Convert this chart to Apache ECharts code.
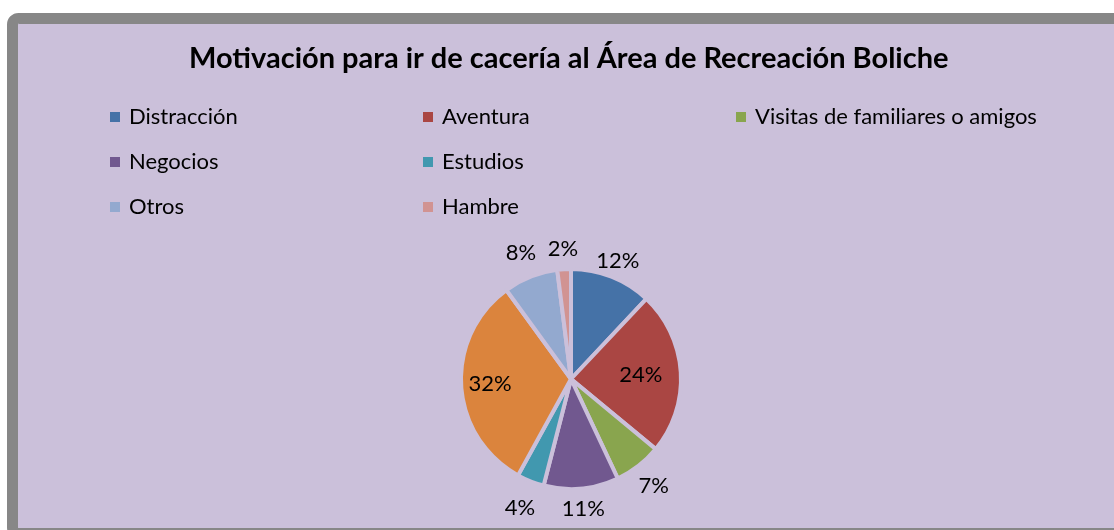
<!DOCTYPE html>
<html><head><meta charset="utf-8">
<script src="https://cdn.jsdelivr.net/npm/echarts@6/dist/echarts.min.js"></script>
<style>html,body{margin:0;padding:0;background:#fff}#c{width:1114px;height:530px}</style>
</head><body><div id="c"></div>
<script>
const titleText = 'Motivación para ir de cacería al Área de Recreación Boliche';
const categories = ['Distracción','Aventura','Visitas de familiares o amigos','Negocios','Estudios','Diversión','Otros','Hambre'];
const values = [12, 24, 7, 11, 4, 32, 8, 2];
const colors = ['#4572A7','#AA4643','#89A54E','#71588F','#4198AF','#DB843D','#93A9CF','#D19392'];
const legendCol1 = ['Distracción','Negocios','Otros'];
const legendCol2 = ['Aventura','Estudios','Hambre'];
const legendCol3 = ['Visitas de familiares o amigos'];

// layout / style settings (not data)
const pieCenter = [571, 379];
const pieRadius = 110;
// distance of each label centre from the pie centre (Excel "best fit" look)
const labelDist = {'Distracción':127,'Aventura':70,'Visitas de familiares o amigos':135,'Negocios':130,'Estudios':139,'Diversión':81,'Otros':136,'Hambre':130};

const chart = echarts.init(document.getElementById('c'), null, {renderer:'canvas'});
const font = 'Lato, "Open Sans", sans-serif';
const bg = '#CBC0DA';
function legend(left, data){
  return {orient:'vertical', left:left, top:101, data:data, icon:'rect', itemWidth:12, itemHeight:12, itemGap:23,
    textStyle:{fontFamily:font, fontSize:22, color:'#000', lineHeight:22, padding:[0,0,0,3]}, selectedMode:false};
}
const total = values.reduce((a,b)=>a+b,0);
function labelLayout(p){
  const i = p.dataIndex;
  let cum = 0; for(let k=0;k<i;k++) cum += values[k];
  const ang = (cum + values[i]/2)/total*2*Math.PI;
  const r = labelDist[categories[i]];
  return {x: pieCenter[0] + r*Math.sin(ang), y: pieCenter[1] - r*Math.cos(ang), align:'center', verticalAlign:'middle', hideOverlap:false, moveOverlap:null};
}
chart.setOption({
  animation:false,
  backgroundColor:'#fff',
  color: colors,
  graphic:[{type:'rect', z:-10, shape:{x:12.5, y:18.5, width:1200, height:515, r:6}, style:{fill:bg, stroke:'#878787', lineWidth:11}}],
  title:{text:titleText, left:184, top:39, textStyle:{fontFamily:font, fontSize:29, fontWeight:'bold', color:'#000'}},
  legend:[legend(103, legendCol1), legend(416, legendCol2), legend(729, legendCol3)],
  series:[{
    type:'pie', center:pieCenter, radius:[0,pieRadius], startAngle:90, clockwise:true,
    itemStyle:{borderColor:bg, borderWidth:4},
    label:{show:true, position:'outside', formatter:'{d}%', fontFamily:font, fontSize:22, color:'#000'},
    labelLine:{show:false, length:6, length2:0},
    labelLayout: labelLayout,
    emphasis:{disabled:true},
    data: categories.map((n,i)=>({name:n, value:values[i]}))
  }]
});
</script></body></html>
